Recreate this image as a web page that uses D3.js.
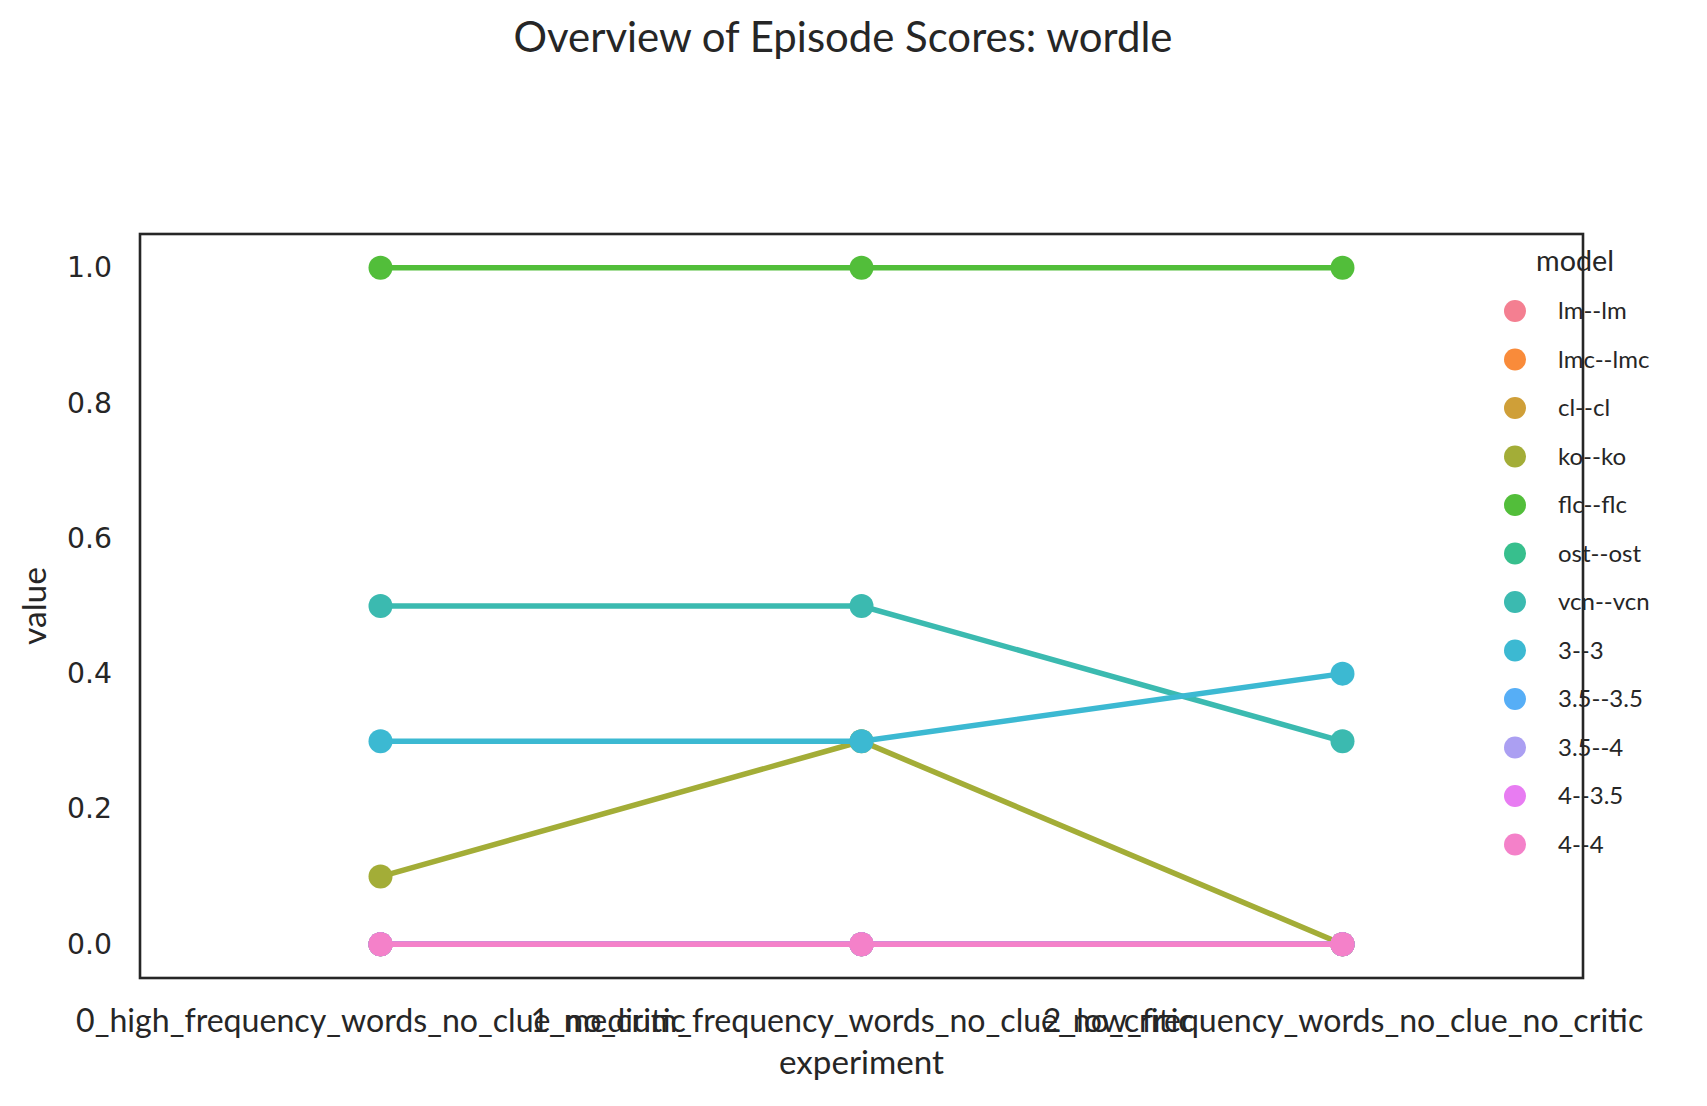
<!DOCTYPE html>
<html><head><meta charset="utf-8">
<script src="https://cdn.jsdelivr.net/npm/d3@7"></script>
<style>html,body{margin:0;padding:0;background:#fff;}svg{display:block;}</style>
</head><body>
<script>
const experiments = ["0_high_frequency_words_no_clue_no_critic", "1_medium_frequency_words_no_clue_no_critic", "2_low_frequency_words_no_clue_no_critic"];
const models = ["lm--lm", "lmc--lmc", "cl--cl", "ko--ko", "flc--flc", "ost--ost", "vcn--vcn", "3--3", "3.5--3.5", "3.5--4", "4--3.5", "4--4"];
const colors = ["#f47f91", "#f98b3a", "#cf9f38", "#a3ad37", "#52be3a", "#37bf8d", "#3bbab0", "#3cb9d2", "#56aef6", "#ab9ff2", "#e87cf2", "#f481c9"];
const values = [
  [0, 0, 0],
  [0, 0, 0],
  [0, 0, 0],
  [0.1, 0.3, 0],
  [1, 1, 1],
  [0, 0, 0],
  [0.5, 0.5, 0.3],
  [0.3, 0.3, 0.4],
  [0, 0, 0],
  [0, 0, 0],
  [0, 0, 0],
  [0, 0, 0]
];
const yTicks = [0, 0.2, 0.4, 0.6, 0.8, 1.0];
const titleText = "Overview of Episode Scores: wordle";

const W = 1707, H = 1106;
const FONT = "Lato, 'Open Sans', sans-serif";
const ink = "#262626";
const L = 140, R = 1583, T = 234, B = 978;

const svg = d3.select("body").append("svg").attr("width", W).attr("height", H);

const x = d3.scalePoint().domain(experiments).range([L, R]).padding(0.5);
const y = d3.scaleLinear().domain([-0.05, 1.05]).range([B, T]);

function fit(sel, target) {
  const n = sel.node().getComputedTextLength();
  const fs = parseFloat(sel.attr("font-size"));
  sel.attr("font-size", fs * target / n);
  return fs * target / n;
}

// title
const title = svg.append("text").attr("x", 843).attr("y", 52).attr("text-anchor", "middle")
  .attr("font-family", FONT).attr("font-size", 34).attr("fill", ink).text(titleText);
fit(title, 659);

// y axis
const yAxis = svg.append("g").attr("transform", `translate(${L},0)`)
  .call(d3.axisLeft(y).tickValues(yTicks).tickFormat(d3.format(".1f")).tickSize(0).tickPadding(28));
yAxis.select(".domain").remove();
const yt = yAxis.selectAll("text").attr("font-family", "'DejaVu Sans', sans-serif").attr("font-size", 25).attr("fill", ink);
const fsy = fit(yt.filter((d, i) => i === yTicks.length - 1), 45);
yt.attr("font-size", fsy);

// x axis
const xAxis = svg.append("g").attr("transform", `translate(0,${B})`)
  .call(d3.axisBottom(x).tickSize(0).tickPadding(31));
xAxis.select(".domain").remove();
const xt = xAxis.selectAll("text").attr("font-family", FONT).attr("font-size", 24).attr("fill", ink);
const fsx = fit(xt.filter((d, i) => i === 0), 610);
xt.attr("font-size", fsx);

// axis labels
const xl = svg.append("text").attr("x", (L + R) / 2).attr("y", 1074).attr("text-anchor", "middle")
  .attr("font-family", FONT).attr("font-size", 26).attr("fill", ink).text("experiment");
fit(xl, 165);
const yl = svg.append("text").attr("transform", `translate(46,${(T + B) / 2}) rotate(-90)`).attr("text-anchor", "middle")
  .attr("font-family", FONT).attr("font-size", 26).attr("fill", ink).text("value");
fit(yl, 78);

// series
const line = d3.line().x((d, i) => x(experiments[i])).y(d => y(d));
const plot = svg.append("g");
models.forEach((m, k) => {
  const g = plot.append("g");
  g.append("path").datum(values[k]).attr("d", line).attr("fill", "none")
    .attr("stroke", colors[k]).attr("stroke-width", 5.5);
  g.selectAll("circle").data(values[k]).join("circle")
    .attr("cx", (d, i) => x(experiments[i])).attr("cy", d => y(d)).attr("r", 12)
    .attr("fill", colors[k]);
});

// frame
svg.append("rect").attr("x", L).attr("y", T).attr("width", R - L).attr("height", B - T)
  .attr("fill", "none").attr("stroke", ink).attr("stroke-width", 2.6);

// legend
const lg = svg.append("g");
const lt = lg.append("text").attr("x", 1575).attr("y", 271).attr("text-anchor", "middle")
  .attr("font-family", FONT).attr("font-size", 25).attr("fill", ink).text("model");
fit(lt, 78);
const items = lg.selectAll("g.item").data(models).join("g").attr("class", "item")
  .attr("transform", (d, i) => `translate(0,${311 + i * 48.5})`);
items.append("circle").attr("cx", 1515).attr("cy", 0).attr("r", 11).attr("fill", (d, i) => colors[i]);
items.append("text").attr("x", 1558).attr("y", 0).attr("dy", "0.35em")
  .attr("font-family", FONT).attr("font-size", 24).attr("fill", ink).text(d => d);
</script>
</body></html>
